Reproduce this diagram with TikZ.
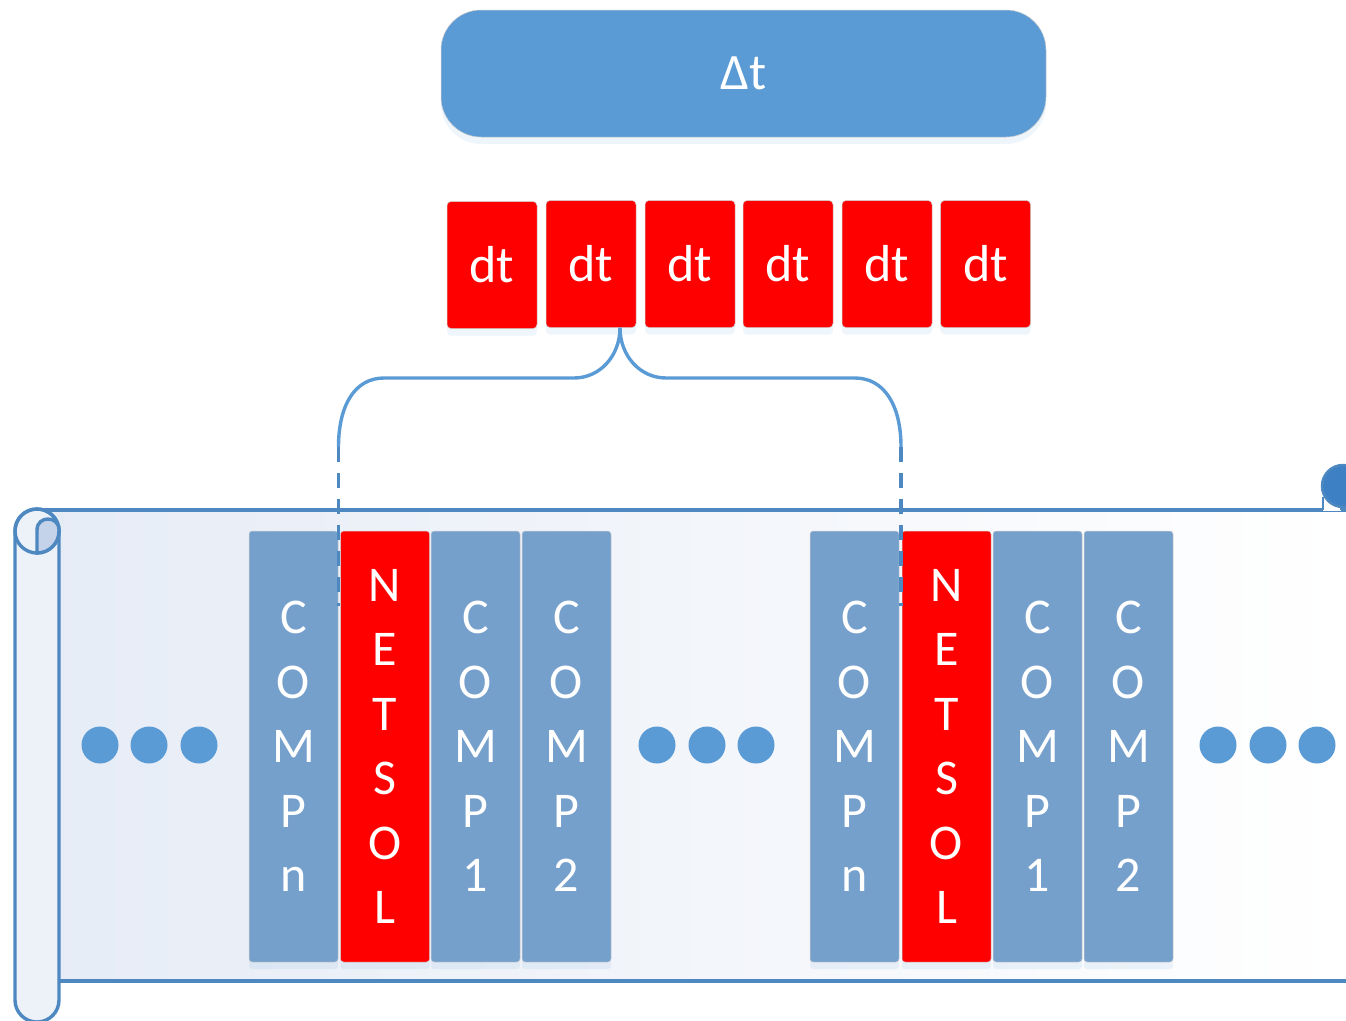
\documentclass[tikz,border=0pt]{standalone}
\usepackage{fontspec}
\setmainfont{Carlito}
\usetikzlibrary{shadows,calc}
\definecolor{boxblue}{HTML}{5B9BD5}
\definecolor{colblue}{HTML}{76A0CC}
\definecolor{lineblue}{HTML}{4E88C0}
\definecolor{scrollfill}{HTML}{E6ECF6}
\definecolor{curlfill}{HTML}{C4D2EA}
\definecolor{curldark}{HTML}{3D80C4}
\definecolor{netred}{HTML}{FF0000}
\tikzset{
  softshadow/.style={drop shadow={opacity=0.10, shadow xshift=0pt, shadow yshift=-7pt, fill=boxblue}},
  dtbox/.style={fill=netred, draw=gray!40, line width=0.5pt, rounded corners=4pt, minimum width=90pt, minimum height=127pt, inner sep=0pt, text=white, font=\fontsize{52}{60}\selectfont, softshadow},
  colbox/.style={fill=colblue, draw=gray!35, line width=0.5pt, rounded corners=3pt, minimum width=89pt, minimum height=431pt, inner sep=0pt, text=white, align=center, font=\fontsize{50}{64.4}\selectfont, softshadow},
  netbox/.style={colbox, fill=netred},
  dotnode/.style={circle, fill=boxblue, minimum size=37pt, inner sep=0pt},
  bracket/.style={draw=boxblue, line width=3.4pt},
  dashline/.style={draw=lineblue, line width=3.4pt, dash pattern=on 15pt off 11pt},
  scrollline/.style={draw=lineblue, line width=3.4pt},
}
\begin{document}
\begin{tikzpicture}[x=1pt,y=-1pt]
\useasboundingbox (0,0) rectangle (1346,1020);
% scroll body
\fill[left color=scrollfill, right color=white] (37,510) rectangle (1346,981);
\draw[scrollline] (37,510) -- (1346,510);
\draw[scrollline] (59,981) -- (1346,981);
% right curl
\fill[white] (1323,497) rectangle (1341,511);
\draw[scrollline, line width=2.5pt] (1323,497) -- (1323,510) (1341,497) -- (1341,510);
\filldraw[fill=curldark, draw=lineblue, line width=2.5pt] (1343,486) circle[radius=21];
% left roll
\filldraw[fill=scrollfill!70!white, scrollline, rounded corners=21.9pt] (15,509) rectangle (59,1022);
\draw[scrollline] (37,531) circle[radius=22];
\filldraw[fill=curlfill, scrollline] (37,553) -- (37,530) .. controls (37,515.3) and (59,515.3) .. (59,530) -- (59,531) .. controls (59,543.2) and (49.2,553) .. (37,553) -- cycle;
% dots
\foreach \x/\n in {100/a1,149/a2,199/a3,657/b1,707/b2,756/b3,1218/c1,1268/c2,1317/c3}
  \node[dotnode] (dot\n) at (\x,745) {};
% columns group 1
\node[colbox] (cn1) at (293.5,746.5) {C\\O\\M\\P\\n};
\node[netbox] (ns1) at (385,746.5) {N\\E\\T\\S\\O\\L};
\node[colbox] (ca1) at (475.5,746.5) {C\\O\\M\\P\\1};
\node[colbox] (cb1) at (566.5,746.5) {C\\O\\M\\P\\2};
% columns group 2
\node[colbox] (cn2) at (854.5,746.5) {C\\O\\M\\P\\n};
\node[netbox] (ns2) at (946.5,746.5) {N\\E\\T\\S\\O\\L};
\node[colbox] (ca2) at (1037.5,746.5) {C\\O\\M\\P\\1};
\node[colbox] (cb2) at (1128.5,746.5) {C\\O\\M\\P\\2};
% top box
\node[fill=boxblue, draw=gray!40, line width=0.5pt, rounded corners=40pt, minimum width=605pt, minimum height=127pt, inner sep=0pt, text=white, font=\fontsize{51}{60}\selectfont, softshadow] (Dt) at (743.5,73.5) {Δt};
% dt boxes
\node[dtbox] (dt1) at (492,265) {dt};
\node[dtbox] (dt2) at (591,264) {dt};
\node[dtbox] (dt3) at (690,264) {dt};
\node[dtbox] (dt4) at (788,264) {dt};
\node[dtbox] (dt5) at (887,264) {dt};
\node[dtbox] (dt6) at (985.5,264) {dt};
% brace
\coordinate (apex) at ($(dt2.south)+(29,0)$);
\coordinate (bl) at (338.5,447);
\coordinate (br) at (901,447);
\coordinate (el) at (338.5,606);
\coordinate (er) at (901,606);
\draw[bracket] (apex) .. controls ($(apex)+(0,28)$) and (600,378) .. (574,378) -- (384,378) .. controls (355,378) and (338.5,405) .. (bl);
\draw[bracket] (apex) .. controls ($(apex)+(0,28)$) and (640,378) .. (666,378) -- (855,378) .. controls (884,378) and (901,405) .. (br);
\draw[dashline] (bl) -- (el);
\draw[dashline] (br) -- (er);
\end{tikzpicture}
\end{document}
